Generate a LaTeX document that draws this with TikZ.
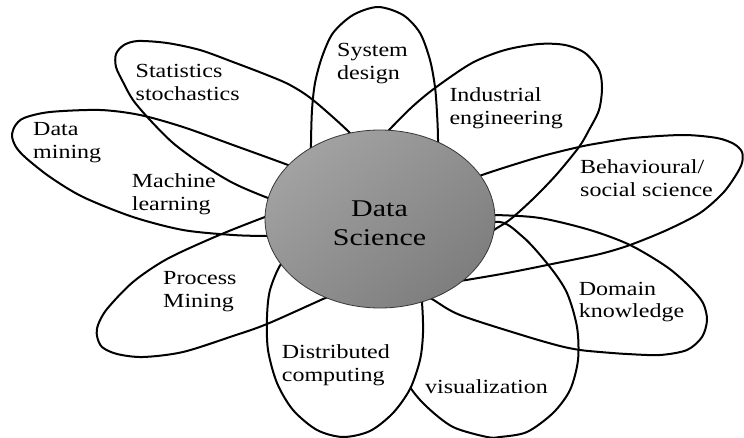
\documentclass[tikz,border=0pt]{standalone}
\usepackage{fontspec}
\setmainfont{Liberation Serif}[FakeStretch=1.2]
\newfontfamily\bigfont{Liberation Serif}[FakeStretch=1.25]
\usetikzlibrary{shapes.geometric}
\definecolor{discA}{RGB}{162,162,162}
\definecolor{discB}{RGB}{126,126,126}
\definecolor{discline}{RGB}{55,55,55}
\tikzset{
  petal/.style={draw=black, line width=2pt, line join=round},
  lbl/.style={font=\fontsize{20}{22.5}\selectfont, align=left, inner sep=0pt, anchor=west, text=black},
  disc/.style={ellipse, draw=discline, line width=0.8pt, top color=discA, bottom color=discB, shading angle=40,
    minimum width=230, minimum height=178, inner sep=0pt},
  disclbl/.style={font=\bigfont\fontsize{24}{29}\selectfont, align=center, inner sep=0pt, text=black}
}
\begin{document}
\begin{tikzpicture}[x=1pt,y=-1pt]
\useasboundingbox (0,0) rectangle (744,438);
% visualization (partly hidden under distributed computing)
\draw[petal] plot[smooth cycle] coordinates {(495,222) (523,237) (550,267) (567,293) (577,327) (578,360) (570,390) (553,413) (527,432) (500,437) (487,437) (453,427) (427,407) (410,387) (398,360) (393,330) (400,300) (440,250)};
% distributed computing (white filled)
\draw[petal, fill=white] plot[smooth cycle] coordinates {(281,264) (270,290) (267,317) (268,350) (277,383) (293,410) (317,430) (343,437) (370,431) (393,413) (410,389) (420,360) (423,333) (422,303) (418,275) (350,248) (295,255)};
% system design
\draw[petal] plot[smooth cycle] coordinates {(311,175) (311,143) (312,110) (315,83) (322,57) (333,33) (353,15) (378,7) (403,15) (420,33) (430,60) (435,87) (437,113) (438,140) (437,175) (420,205) (375,215) (330,205)};
% industrial engineering
\draw[petal] plot[smooth cycle] coordinates {(389,130) (412,107) (435,88) (472,63) (505,50) (539,44) (565,45) (585,53) (599,70) (602,88) (599,110) (589,130) (579,147) (557,174) (535,197) (512,218) (497,228) (468,244) (415,225) (380,180) (374,146)};
% behavioural / social science
\draw[petal] plot[smooth cycle] coordinates {(482,175) (539,157) (579,147) (600,143) (633,138) (683,135) (717,138) (734,144) (742,152) (742,163) (736,175) (723,193) (700,213) (667,230) (630,245) (600,254) (557,263) (507,273) (460,281) (420,287) (395,245) (430,195)};
% domain knowledge
\draw[petal] plot[smooth cycle] coordinates {(495,215) (540,218) (590,230) (630,245) (667,267) (690,287) (703,303) (707,320) (702,337) (687,350) (660,355) (627,354) (600,352) (580,350) (560,346) (525,336) (460,315) (432,299) (408,285) (415,240) (455,215)};
% process mining
\draw[petal] plot[smooth cycle] coordinates {(265,217) (217,236) (167,259) (133,282) (107,309) (98,325) (97,336) (102,347) (117,354) (143,357) (183,352) (233,336) (267,324) (323,299) (350,287) (368,255) (340,215) (300,205)};
% data mining / machine learning
\draw[petal] plot[smooth cycle] coordinates {(288,165) (233,145) (183,127) (140,115) (100,110) (50,112) (24,118) (15,126) (12,136) (16,147) (26,158) (50,177) (83,197) (133,217) (183,230) (233,235) (267,236) (310,236) (350,222) (345,195) (318,177)};
% statistics stochastics
\draw[petal] plot[smooth cycle] coordinates {(350,133) (313,100) (290,85) (267,75) (233,62) (200,50) (167,43) (138,41) (124,45) (116,54) (116,67) (123,82) (133,100) (150,120) (173,143) (200,163) (233,183) (268,198) (310,213) (365,205) (378,165)};
% central disc
\node[disc] (ds) at (380,219) {};
\node[disclbl] (dslbl) at (379.5,223.3) {Data\\Science};
% labels
\node[lbl] (sysd) at (337,63.5) {System\\design};
\node[lbl] (stat) at (135.5,82.5) {Statistics\\stochastics};
\node[lbl] (dmin) at (33,142.5) {Data\\mining};
\node[lbl] (mlrn) at (131.7,194) {Machine\\learning};
\node[lbl] (pmin) at (163,291.5) {Process\\Mining};
\node[lbl] (dcomp) at (281.7,365) {Distributed\\computing};
\node[lbl] (vis) at (425,387) {visualization};
\node[lbl] (dom) at (578.7,302) {Domain\\knowledge};
\node[lbl] (beh) at (580,178) {Behavioural/\\social science};
\node[lbl] (ind) at (449.3,108.3) {Industrial\\engineering};
\end{tikzpicture}
\end{document}
